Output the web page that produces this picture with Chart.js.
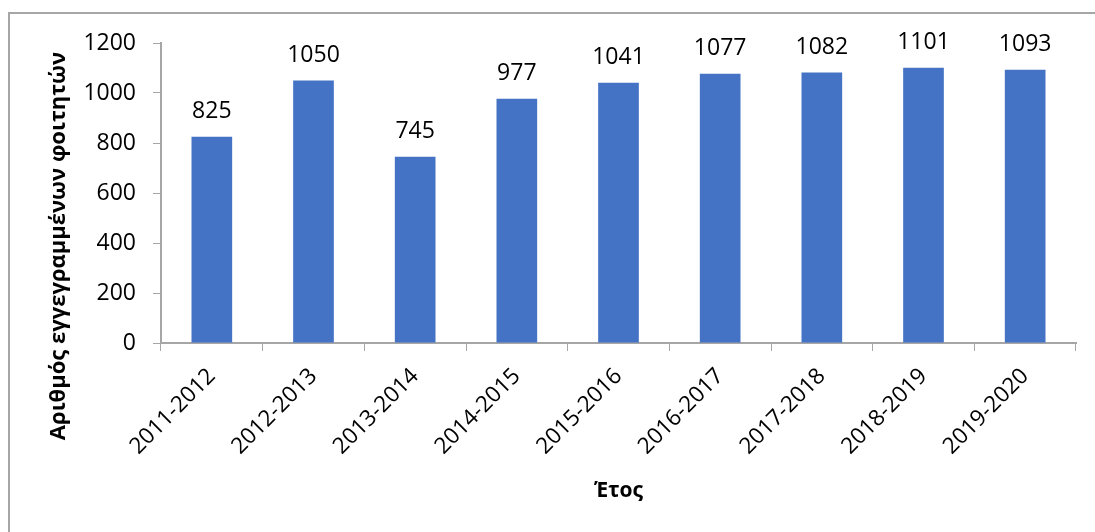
<!DOCTYPE html>
<html>
<head>
<meta charset="utf-8">
<script src="https://cdn.jsdelivr.net/npm/chart.js@4"></script>
<style>
  html, body { margin: 0; padding: 0; background: #fff; }
  #wrap { width: 1095px; height: 532px; position: relative; }
</style>
</head>
<body>
<div id="wrap"><canvas id="studentsChart" width="1095" height="532"></canvas></div>
<script>
const years = ["2011-2012", "2012-2013", "2013-2014", "2014-2015", "2015-2016",
               "2016-2017", "2017-2018", "2018-2019", "2019-2020"];
const students = [825, 1050, 745, 977, 1041, 1077, 1082, 1101, 1093];
const yTicks = [0, 200, 400, 600, 800, 1000, 1200];

const FONT = "'Open Sans', 'Noto Sans', sans-serif";
const AXIS_GREY = "#a6a6a6";

// frame round the chart (top + left edge only are visible)
const framePlugin = {
    id: "frame",
    beforeDraw(chart) {
        const ctx = chart.ctx;
        ctx.save();
        ctx.strokeStyle = AXIS_GREY;
        ctx.lineWidth = 2;
        ctx.beginPath();
        ctx.moveTo(9, 532);
        ctx.lineTo(9, 13);
        ctx.lineTo(1095, 13);
        ctx.stroke();
        ctx.restore();
    }
};

// value above each bar
const barLabels = {
    id: "barLabels",
    afterDatasetsDraw(chart) {
        const ctx = chart.ctx;
        const meta = chart.getDatasetMeta(0);
        ctx.save();
        ctx.font = "23px " + FONT;
        ctx.fillStyle = "#000";
        ctx.textAlign = "center";
        ctx.textBaseline = "alphabetic";
        meta.data.forEach((bar, i) => {
            ctx.fillText(String(students[i]), bar.x, bar.y - 19);
        });
        ctx.restore();
    }
};

// y axis title, centred lower like the original
const yTitle = {
    id: "yTitle",
    afterDraw(chart) {
        const ctx = chart.ctx;
        ctx.save();
        ctx.translate(59, 246);
        ctx.rotate(-Math.PI / 2);
        ctx.font = "bold 22px " + FONT;
        ctx.fillStyle = "#000";
        ctx.textAlign = "center";
        ctx.textBaseline = "middle";
        ctx.fillText("Αριθμός εγγεγραμμένων φοιτητών", 0, 0);
        ctx.restore();
    }
};

new Chart(document.getElementById("studentsChart"), {
    type: "bar",
    data: {
        labels: years,
        datasets: [{
            data: students,
            backgroundColor: "#4472c4",
            categoryPercentage: 1,
            barPercentage: 0.4
        }]
    },
    options: {
        responsive: false,
        animation: false,
        layout: { padding: { top: 43, right: 19, bottom: 0, left: 0 } },
        plugins: {
            legend: { display: false },
            tooltip: { enabled: false }
        },
        scales: {
            x: {
                grid: {
                    display: true,
                    drawOnChartArea: false,
                    drawTicks: true,
                    tickLength: 8,
                    color: AXIS_GREY,
                    offset: true
                },
                border: { color: AXIS_GREY, width: 2 },
                ticks: {
                    color: "#000",
                    font: { family: FONT, size: 22.5 },
                    minRotation: 45,
                    maxRotation: 45,
                    padding: 12
                },
                title: {
                    display: true,
                    text: "Έτος",
                    color: "#000",
                    font: { family: FONT, size: 21, weight: "bold" },
                    padding: { top: 0, bottom: 28 }
                },
                afterFit(scale) { scale.height = 189; }
            },
            y: {
                min: 0,
                max: 1200,
                afterBuildTicks(scale) {
                    scale.ticks = yTicks.map(v => ({ value: v }));
                },
                grid: {
                    display: true,
                    drawOnChartArea: false,
                    drawTicks: true,
                    tickLength: 8,
                    color: AXIS_GREY
                },
                border: { color: AXIS_GREY, width: 2 },
                ticks: {
                    color: "#000",
                    font: { family: FONT, size: 23 },
                    padding: 17,
                    callback: v => String(v)
                },
                afterFit(scale) { scale.width = 161; }
            }
        }
    },
    plugins: [framePlugin, barLabels, yTitle]
});
</script>
</body>
</html>
